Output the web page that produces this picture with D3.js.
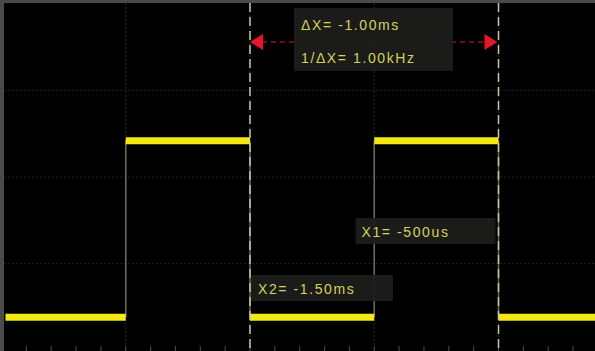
<!DOCTYPE html>
<html><head><meta charset="utf-8">
<script src="https://cdn.jsdelivr.net/npm/d3@7"></script>
<style>
html,body{margin:0;padding:0;background:#000;overflow:hidden;}
svg{display:block;}
</style></head>
<body>
<script>
// ---- data (time in ms, voltage in V, 0.5 ms/div, 1 V/div) ----
const segStart = [-2.484, -2.0, -1.5, -1.0, -0.5];
const segEnd   = [-2.0, -1.5, -1.0, -0.5, -0.105];
const segLevel = [-1.62, 0.42, -1.62, 0.42, -1.62];
const edgeTimes = [-2.0, -1.5, -1.0, -0.5];
const gridTimes = [-2.0, -1.5, -1.0, -0.5];
const gridVolts = [1, 0, -1];
const cursorX1 = -0.5;
const cursorX2 = -1.5;
const deltaLabel = "ΔX= -1.00ms";
const freqLabel = "1/ΔX= 1.00kHz";
const x1Label = "X1= -500us";
const x2Label = "X2= -1.50ms";

const W = 595, H = 351;
const svg = d3.select("body").append("svg").attr("width", W).attr("height", H);
svg.append("rect").attr("width", W).attr("height", H).attr("fill", "#000");

const x = d3.scaleLinear().domain([-1.5, -0.5]).range([250, 498.5]);
const y = d3.scaleLinear().domain([0, 1]).range([177, 90.4]);

// borders
svg.append("rect").attr("x", 0).attr("y", 0).attr("width", 4).attr("height", H).attr("fill", "#4a4a4a");
svg.append("rect").attr("x", 0).attr("y", 0).attr("width", W).attr("height", 3).attr("fill", "#4a4a4a");

// grid
const g = svg.append("g");
g.selectAll("line.vg").data(gridTimes).join("line")
  .attr("x1", d => x(d)).attr("x2", d => x(d)).attr("y1", 3).attr("y2", H)
  .attr("stroke", "#2a2a24").attr("stroke-width", 1).attr("stroke-dasharray", "2,2");
g.selectAll("line.hg").data(gridVolts).join("line")
  .attr("x1", 4).attr("x2", W).attr("y1", d => y(d)).attr("y2", d => y(d))
  .attr("stroke", "#222220").attr("stroke-width", 1).attr("stroke-dasharray", "2,2");

// bottom minor ticks (0.1 ms)
const tickTimes = d3.range(-2.4, -0.1, 0.1);
g.selectAll("line.tk").data(tickTimes).join("line")
  .attr("x1", d => x(d)).attr("x2", d => x(d)).attr("y1", H - 5).attr("y2", H)
  .attr("stroke", "#4d4d4d").attr("stroke-width", 1);

// signal edges
svg.selectAll("line.edge").data(edgeTimes).join("line")
  .attr("x1", d => x(d)).attr("x2", d => x(d)).attr("y1", y(0.42)).attr("y2", y(-1.62))
  .attr("stroke", "#6e6e52").attr("stroke-width", 1.5);

// signal segments
svg.selectAll("line.seg").data(segStart).join("line")
  .attr("x1", (d, i) => Math.max(4, x(d))).attr("x2", (d, i) => x(segEnd[i]) > W - 1 ? W : x(segEnd[i]))
  .attr("y1", (d, i) => y(segLevel[i])).attr("y2", (d, i) => y(segLevel[i]))
  .attr("stroke", "#f2ea12").attr("stroke-width", 7);

// delta arrows & dashed line
const ay = 42;
svg.append("line").attr("x1", x(cursorX2) + 12).attr("x2", x(cursorX1) - 14).attr("y1", ay).attr("y2", ay)
  .attr("stroke", "#8a1818").attr("stroke-width", 1.5).attr("stroke-dasharray", "5,4");
svg.append("path")
  .attr("d", `M${x(cursorX2)},${ay} L${x(cursorX2) + 13},${ay - 8} L${x(cursorX2) + 13},${ay + 8} Z`)
  .attr("fill", "#e8152a");
svg.append("path")
  .attr("d", `M${x(cursorX1) - 1},${ay} L${x(cursorX1) - 14},${ay - 8} L${x(cursorX1) - 14},${ay + 8} Z`)
  .attr("fill", "#e8152a");

// cursor lines
svg.selectAll("line.cur").data([cursorX2, cursorX1]).join("line")
  .attr("x1", d => x(d)).attr("x2", d => x(d)).attr("y1", 3).attr("y2", H)
  .attr("stroke", "#c9c7a2").attr("stroke-width", 1.5).attr("stroke-dasharray", "9,5");

// label boxes
const font = "'Liberation Sans', Arial, sans-serif";
function box(bx, by, bw, bh) {
  svg.append("rect").attr("x", bx).attr("y", by).attr("width", bw).attr("height", bh)
    .attr("fill", "#1c1c1a").attr("opacity", 0.95);
}
function label(tx, ty, t) {
  svg.append("text").attr("x", tx).attr("y", ty).text(t)
    .attr("font-family", font).attr("font-size", 14).attr("letter-spacing", 1.6)
    .attr("fill", "#d4d45a");
}
box(294, 8, 159, 63);
label(301, 30, deltaLabel);
label(301, 63, freqLabel);

box(x(cursorX1) - 143, 218, 140, 26);
label(x(cursorX1) - 137, 237, x1Label);

box(x(cursorX2) + 1, 275, 142, 26);
label(x(cursorX2) + 8, 294, x2Label);
</script>
</body></html>
